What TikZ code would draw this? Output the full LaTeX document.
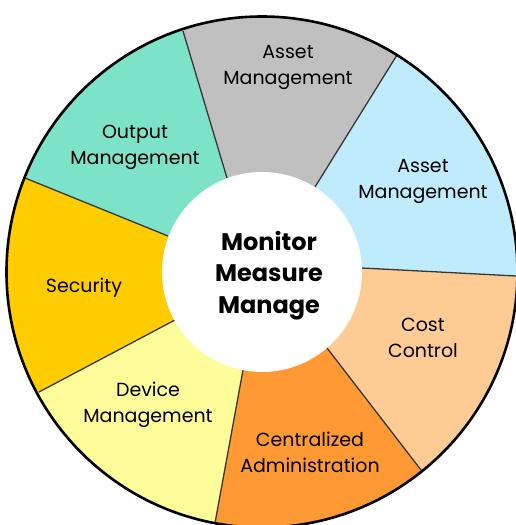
\documentclass[tikz,border=0pt]{standalone}
\usepackage{fontspec}
\setmainfont{Poppins}
\definecolor{cTeal}{RGB}{125,227,200}
\definecolor{cGray}{RGB}{192,192,192}
\definecolor{cBlue}{RGB}{190,236,253}
\definecolor{cPeach}{RGB}{254,203,148}
\definecolor{cOrange}{RGB}{255,153,51}
\definecolor{cYellow}{RGB}{255,253,153}
\definecolor{cGold}{RGB}{255,204,0}
\definecolor{cLine}{RGB}{55,55,55}
\tikzset{
  divider/.style={draw=cLine, line width=1.3pt},
  lbl/.style={font=\fontsize{19}{26}\selectfont, align=center, anchor=base, inner sep=0pt},
  hub/.style={font=\fontsize{24}{31.5}\selectfont\bfseries, align=center, anchor=base, inner sep=0pt},
}
\begin{document}
\begin{tikzpicture}[x=1pt,y=1pt]
\useasboundingbox (-262,-253) rectangle (254,272);
% divider end points (inner i, outer o)
\coordinate (i1) at (-35,94);   \coordinate (o1) at (-79,241);
\coordinate (i2) at (53,85);    \coordinate (o2) at (135,217);
\coordinate (i3) at (100,4);    \coordinate (o3) at (254,-4);
\coordinate (i4) at (65,-76);   \coordinate (o4) at (159,-198);
\coordinate (i5) at (-19,-98);  \coordinate (o5) at (-47,-251);
\coordinate (i6) at (-87,-48);  \coordinate (o6) at (-223,-120);
\coordinate (i7) at (-94,36);   \coordinate (o7) at (-237,94);
\begin{scope}
\clip (0,0) circle (256);
\fill[cGray]   (0,0) -- (i2) -- (o2) -- (58:320) -- (83:320) -- (108:320) -- (o1) -- (i1) -- cycle;
\fill[cBlue]   (0,0) -- (i3) -- (o3) -- (-1:320) -- (29:320) -- (58:320) -- (o2) -- (i2) -- cycle;
\fill[cPeach]  (0,0) -- (i4) -- (o4) -- (-51:320) -- (-26:320) -- (-1:320) -- (o3) -- (i3) -- cycle;
\fill[cOrange] (0,0) -- (i5) -- (o5) -- (-100.6:320) -- (-76:320) -- (-51:320) -- (o4) -- (i4) -- cycle;
\fill[cYellow] (0,0) -- (i6) -- (o6) -- (208.3:320) -- (234:320) -- (259.4:320) -- (o5) -- (i5) -- cycle;
\fill[cGold]   (0,0) -- (i7) -- (o7) -- (158.4:320) -- (183:320) -- (208.3:320) -- (o6) -- (i6) -- cycle;
\fill[cTeal]   (0,0) -- (i1) -- (o1) -- (108:320) -- (133:320) -- (158.4:320) -- (o7) -- (i7) -- cycle;
\end{scope}
\draw[divider] (i1) -- (o1);
\draw[divider] (i2) -- (o2);
\draw[divider] (i3) -- (o3);
\draw[divider] (i4) -- (o4);
\draw[divider] (i5) -- (o5);
\draw[divider] (i6) -- (o6);
\draw[divider] (i7) -- (o7);
\fill[white] (0,0) circle (100);
\draw[black, line width=2.6pt] (0,0) circle (255.5);
% labels (anchor = baseline of the last line)
\node[lbl] (gray)    at (26,187)   {Asset\\Management};
\node[lbl] (teal)    at (-127,107) {Output\\Management};
\node[lbl] (blue)    at (161,73)   {Asset\\Management};
\node[lbl] (sec)     at (-178,-20) {Security};
\node[lbl] (cost)    at (161,-85)  {Cost\\Control};
\node[lbl] (dev)     at (-114,-150){Device\\Management};
\node[lbl] (central) at (48,-200)  {Centralized\\Administration};
\node[hub] (hubtext) at (7,-41)    {Monitor\\Measure\\Manage};
\end{tikzpicture}
\end{document}
